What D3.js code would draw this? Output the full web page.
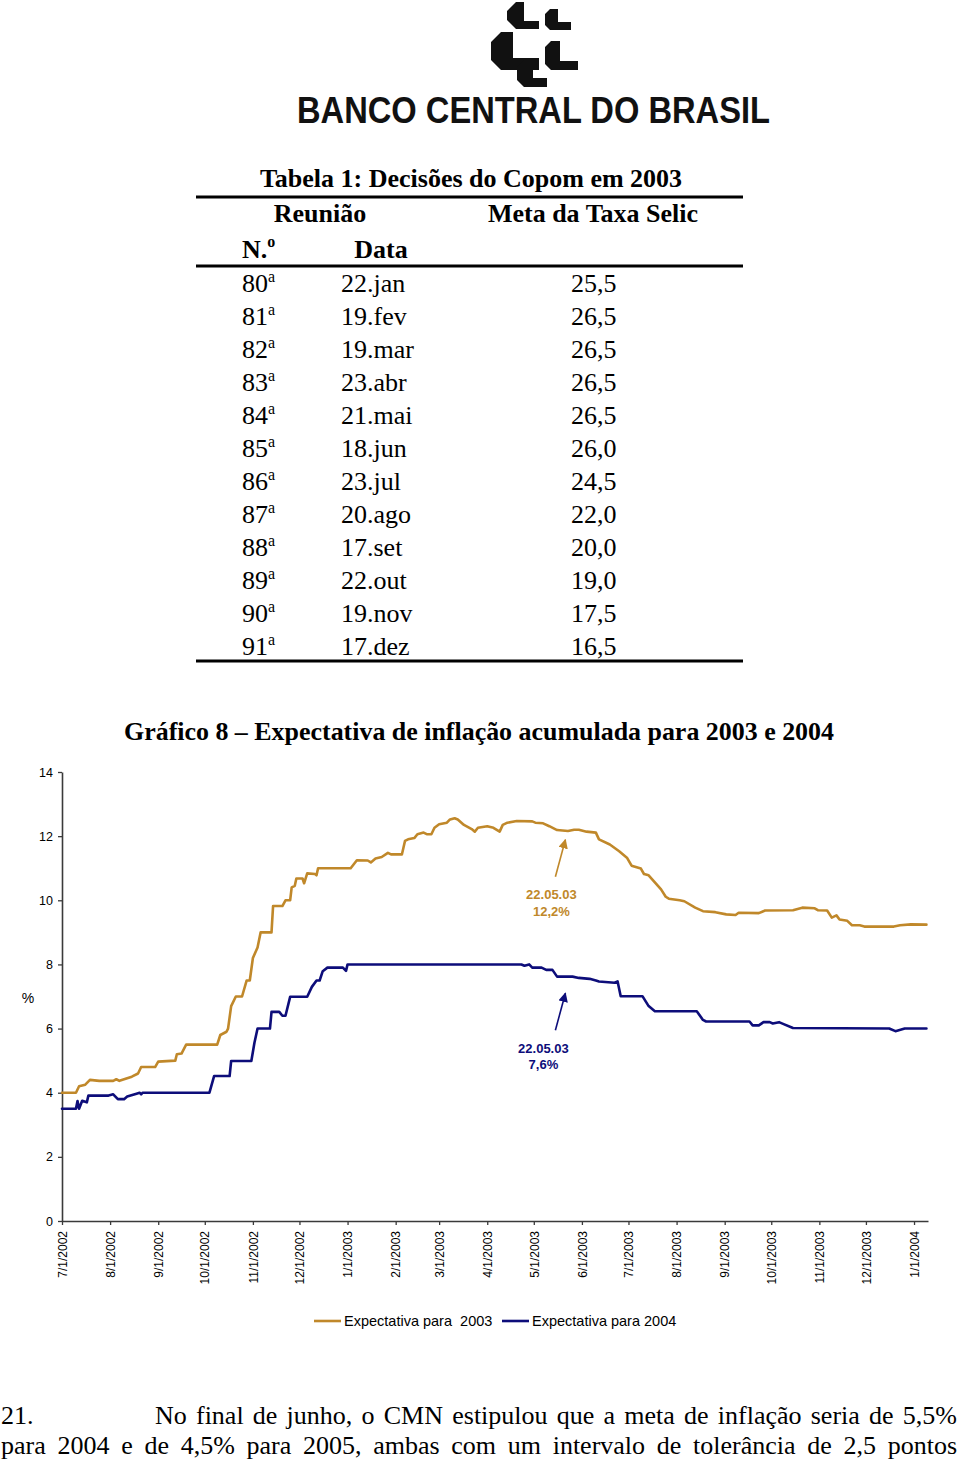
<!DOCTYPE html>
<html><head><meta charset="utf-8">
<script src="https://cdn.jsdelivr.net/npm/d3@7"></script>
<style>body{margin:0;background:#fff} svg{display:block}</style>
</head><body>
<svg id="page" width="960" height="1459"></svg>
<script>
// ---------- Table data ----------
const meetingNumbers = ["80","81","82","83","84","85","86","87","88","89","90","91"];
const meetingDates = ["22.jan","19.fev","19.mar","23.abr","21.mai","18.jun","23.jul","20.ago","17.set","22.out","19.nov","17.dez"];
const selicTargets = ["25,5","26,5","26,5","26,5","26,5","26,0","24,5","22,0","20,0","19,0","17,5","16,5"];

// ---------- Chart data ----------
const monthTicks = ["2002-07-01","2002-08-01","2002-09-01","2002-10-01","2002-11-01","2002-12-01",
  "2003-01-01","2003-02-01","2003-03-01","2003-04-01","2003-05-01","2003-06-01","2003-07-01",
  "2003-08-01","2003-09-01","2003-10-01","2003-11-01","2003-12-01","2004-01-01"];
const yTicks = [0,2,4,6,8,10,12,14];
const seriesNames = ["Expectativa para  2003","Expectativa para 2004"];

const expect2003 = [
["2002-07-01",4.00],["2002-07-10",4.00],["2002-07-12",4.20],["2002-07-16",4.25],["2002-07-19",4.40],
["2002-07-25",4.37],["2002-08-03",4.37],["2002-08-05",4.42],["2002-08-07",4.37],["2002-08-12",4.45],
["2002-08-15",4.50],["2002-08-19",4.60],["2002-08-21",4.80],["2002-08-30",4.80],["2002-09-01",4.97],
["2002-09-12",5.00],["2002-09-13",5.20],["2002-09-16",5.22],["2002-09-19",5.50],["2002-10-09",5.50],
["2002-10-11",5.80],["2002-10-15",5.90],["2002-10-16",6.00],["2002-10-18",6.70],["2002-10-21",7.00],
["2002-10-25",7.00],["2002-10-28",7.50],["2002-10-30",7.50],["2002-11-01",8.20],["2002-11-04",8.53],
["2002-11-06",9.00],["2002-11-13",9.00],["2002-11-14",9.82],["2002-11-20",9.82],["2002-11-22",10.00],
["2002-11-25",10.00],["2002-11-26",10.40],["2002-11-28",10.45],["2002-11-29",10.68],["2002-12-03",10.68],
["2002-12-04",10.53],["2002-12-06",10.84],["2002-12-11",10.82],["2002-12-12",10.78],["2002-12-13",11.00],
["2003-01-03",11.00],["2003-01-07",11.25],["2003-01-14",11.24],["2003-01-16",11.18],["2003-01-19",11.30],
["2003-01-23",11.35],["2003-01-27",11.48],["2003-01-29",11.43],["2003-02-05",11.43],["2003-02-07",11.85],
["2003-02-09",11.90],["2003-02-13",11.94],["2003-02-15",12.06],["2003-02-19",12.11],["2003-02-21",12.06],
["2003-02-24",12.06],["2003-02-26",12.26],["2003-03-01",12.37],["2003-03-06",12.42],["2003-03-08",12.52],
["2003-03-11",12.56],["2003-03-13",12.52],["2003-03-17",12.35],["2003-03-22",12.22],["2003-03-24",12.14],
["2003-03-26",12.26],["2003-04-01",12.31],["2003-04-05",12.26],["2003-04-09",12.14],["2003-04-11",12.35],
["2003-04-14",12.42],["2003-04-20",12.47],["2003-04-30",12.46],["2003-05-02",12.42],["2003-05-07",12.40],
["2003-05-11",12.31],["2003-05-16",12.19],["2003-05-23",12.16],["2003-05-27",12.20],["2003-05-30",12.20],
["2003-06-04",12.14],["2003-06-10",12.11],["2003-06-12",11.90],["2003-06-19",11.74],["2003-06-25",11.53],
["2003-06-30",11.33],["2003-07-03",11.08],["2003-07-09",10.99],["2003-07-11",10.82],["2003-07-14",10.78],
["2003-07-16",10.67],["2003-07-22",10.34],["2003-07-25",10.11],["2003-07-27",10.05],["2003-08-03",10.00],
["2003-08-06",9.97],["2003-08-13",9.77],["2003-08-18",9.66],["2003-08-26",9.63],["2003-09-02",9.56],
["2003-09-08",9.54],["2003-09-10",9.61],["2003-09-23",9.60],["2003-09-27",9.68],["2003-10-15",9.69],
["2003-10-21",9.77],["2003-10-29",9.75],["2003-10-31",9.69],["2003-11-06",9.68],["2003-11-09",9.46],
["2003-11-12",9.53],["2003-11-14",9.40],["2003-11-19",9.36],["2003-11-22",9.22],["2003-11-27",9.22],
["2003-11-30",9.18],["2003-12-19",9.18],["2003-12-23",9.22],["2003-12-30",9.25],["2004-01-09",9.24]
];

const expect2004 = [
["2002-07-01",3.50],["2002-07-10",3.50],["2002-07-11",3.74],["2002-07-12",3.50],["2002-07-14",3.75],
["2002-07-17",3.70],["2002-07-18",3.91],["2002-07-31",3.91],["2002-08-03",3.95],["2002-08-06",3.80],
["2002-08-10",3.80],["2002-08-12",3.88],["2002-08-18",3.97],["2002-08-20",4.00],["2002-08-21",3.95],
["2002-08-22",4.00],["2002-10-04",4.00],["2002-10-07",4.52],["2002-10-17",4.52],["2002-10-18",4.99],
["2002-10-31",4.99],["2002-11-02",5.56],["2002-11-04",6.00],["2002-11-12",6.00],["2002-11-13",6.52],
["2002-11-18",6.52],["2002-11-20",6.40],["2002-11-22",6.40],["2002-11-25",6.99],["2002-12-06",6.99],
["2002-12-09",7.30],["2002-12-12",7.50],["2002-12-14",7.50],["2002-12-16",7.79],["2002-12-19",7.90],
["2002-12-29",7.90],["2002-12-31",7.80],["2003-01-01",8.00],["2003-04-23",8.00],["2003-04-25",7.96],
["2003-04-28",8.00],["2003-04-30",7.90],["2003-05-06",7.90],["2003-05-09",7.83],["2003-05-13",7.83],
["2003-05-16",7.62],["2003-05-26",7.62],["2003-05-30",7.58],["2003-06-06",7.55],["2003-06-10",7.50],
["2003-06-12",7.47],["2003-06-22",7.43],["2003-06-24",7.47],["2003-06-26",7.01],["2003-07-10",7.01],
["2003-07-14",6.70],["2003-07-18",6.54],["2003-08-14",6.54],["2003-08-18",6.27],["2003-08-20",6.22],
["2003-09-17",6.22],["2003-09-19",6.10],["2003-09-23",6.10],["2003-09-26",6.20],["2003-09-30",6.20],
["2003-10-02",6.16],["2003-10-06",6.20],["2003-10-09",6.14],["2003-10-15",6.02],["2003-12-16",6.00],
["2003-12-20",5.92],["2003-12-26",6.00],["2004-01-09",6.00]
];

const annotations = [
  {date:"2003-05-22", value:12.2, label1:"22.05.03", label2:"12,2%", series:0},
  {date:"2003-05-22", value:7.6,  label1:"22.05.03", label2:"7,6%",  series:1}
];

// paragraph text
const paraNumber = "21.";
const paraLine1 = "No final de junho, o CMN estipulou que a meta de inflação seria de 5,5%";
const paraLine2 = "para 2004 e de 4,5% para 2005, ambas com um intervalo de tolerância de 2,5 pontos";

// ---------- Drawing ----------
const colors = ["#C0882A", "#0D0D7A"];
const serif = "'Liberation Serif','Times New Roman',serif";
const sans = "'Liberation Sans',Arial,sans-serif";
const parse = d3.timeParse("%Y-%m-%d");
const svg = d3.select("#page");
svg.append("rect").attr("width",960).attr("height",1459).attr("fill","#fff");

// Logo
const logo = svg.append("g").attr("fill","#111");
function piece(x0,y0,w,h,t,b){
  return `M${x0+b},${y0} L${x0+b+t},${y0} L${x0+b+t},${y0+h-t} L${x0+w},${y0+h-t} L${x0+w},${y0+h} L${x0+b},${y0+h} L${x0},${y0+h-b} L${x0},${y0+b} Z`;
}
[[507,2,32,27,8,9],[545,9,26,21,8,5],[491,32,48,38,12,10],[545,41,33,29,9,6],[517,60,30,27,9,7]]
  .forEach(p=>logo.append("path").attr("d",piece(...p)));
logo.append("text").attr("x",297).attr("y",123).attr("font-family",sans).attr("font-weight","bold")
  .attr("font-size",37).attr("textLength",473).attr("lengthAdjust","spacingAndGlyphs")
  .text("BANCO CENTRAL DO BRASIL");

// Table
const tbl = svg.append("g").attr("font-family",serif).attr("fill","#000");
tbl.append("text").attr("x",471).attr("y",187).attr("text-anchor","middle").attr("font-weight","bold")
  .attr("font-size",26).text("Tabela 1: Decisões do Copom em 2003");
[197,266,661].forEach(yy=>tbl.append("line").attr("x1",196).attr("x2",743).attr("y1",yy).attr("y2",yy)
  .attr("stroke","#000").attr("stroke-width",3));
tbl.append("text").attr("x",320).attr("y",222).attr("text-anchor","middle").attr("font-weight","bold")
  .attr("font-size",26).text("Reunião");
tbl.append("text").attr("x",593).attr("y",222).attr("text-anchor","middle").attr("font-weight","bold")
  .attr("font-size",26).text("Meta da Taxa Selic");
const nt = tbl.append("text").attr("x",242).attr("y",258).attr("font-weight","bold").attr("font-size",26);
nt.append("tspan").text("N.");
nt.append("tspan").attr("font-size",16).attr("dy",-11).text("o");
tbl.append("text").attr("x",381).attr("y",258).attr("text-anchor","middle").attr("font-weight","bold")
  .attr("font-size",26).text("Data");

const rowY = d3.scalePoint().domain(d3.range(meetingNumbers.length)).range([292,655]);
const rows = tbl.selectAll("g.row").data(meetingNumbers).join("g").attr("class","row")
  .attr("font-size",26);
const numT = rows.append("text").attr("x",242).attr("y",(d,i)=>rowY(i));
numT.append("tspan").text(d=>d);
numT.append("tspan").attr("font-size",16).attr("dy",-10).text("a");
rows.append("text").attr("x",341).attr("y",(d,i)=>rowY(i)).text((d,i)=>meetingDates[i]);
rows.append("text").attr("x",571).attr("y",(d,i)=>rowY(i)).text((d,i)=>selicTargets[i]);

// Chart title
svg.append("text").attr("x",124).attr("y",740).attr("font-family",serif)
  .attr("font-weight","bold").attr("font-size",26).attr("textLength",710).attr("lengthAdjust","spacingAndGlyphs")
  .text("Gráfico 8 – Expectativa de inflação acumulada para 2003 e 2004");

// Scales
const x = d3.scaleTime().domain([parse("2002-07-01"), parse("2004-01-10")]).range([62,928]);
const y = d3.scaleLinear().domain([0,14]).range([1221,772]);

const axisColor = "#3a3a3a";
const yAx = svg.append("g").attr("transform","translate(62,0)")
  .call(d3.axisLeft(y).tickValues(yTicks).tickSize(4).tickSizeOuter(0).tickPadding(5));
const xAx = svg.append("g").attr("transform","translate(0,1221)")
  .call(d3.axisBottom(x).tickValues(monthTicks.map(parse)).tickFormat(d3.timeFormat("%-m/%-d/%Y"))
    .tickSize(4).tickSizeOuter(0));
[yAx,xAx].forEach(a=>{
  a.select(".domain").attr("stroke",axisColor).attr("stroke-width",1.6);
  a.selectAll(".tick line").attr("stroke",axisColor).attr("stroke-width",1.3);
  a.selectAll("text").attr("font-family",sans).attr("font-size",12.5).attr("fill","#000");
});
xAx.selectAll(".tick text").attr("transform","rotate(-90)").attr("x",-10).attr("y",0)
  .attr("dy","0.35em").attr("text-anchor","end").attr("font-size",12);
svg.append("text").attr("x",28).attr("y",1003).attr("text-anchor","middle").attr("font-family",sans)
  .attr("font-size",14).text("%");

// Lines
const line = d3.line().x(d=>x(parse(d[0]))).y(d=>y(d[1])).curve(d3.curveLinear);
[expect2003, expect2004].forEach((s,i)=>{
  svg.append("path").datum(s).attr("d",line).attr("fill","none").attr("stroke",colors[i])
    .attr("stroke-width",2.6).attr("stroke-linejoin","round").attr("stroke-linecap","round");
});

// Annotations
const defs = svg.append("defs");
colors.forEach((c,i)=>{
  defs.append("marker").attr("id","arr"+i).attr("viewBox","0 0 10 10").attr("refX",9).attr("refY",5)
    .attr("markerWidth",6).attr("markerHeight",6).attr("orient","auto").attr("markerUnits","strokeWidth")
    .append("path").attr("d","M0,0 L10,5 L0,10 Z").attr("fill",c);
});
const annOffsets = [{tip:10, tail:47, tx:-15, t1:69, t2:86}, {tip:16, tail:53, tx:-23, t1:76, t2:92}];
annotations.forEach((a,i)=>{
  const ax = x(parse(a.date)), ay = y(a.value), o = annOffsets[i], c = colors[a.series];
  svg.append("line").attr("x1",ax-11).attr("y1",ay+o.tail).attr("x2",ax-1).attr("y2",ay+o.tip)
    .attr("stroke",c).attr("stroke-width",1.6).attr("marker-end",`url(#arr${i})`);
  const g = svg.append("g").attr("font-family",sans).attr("font-weight","bold").attr("font-size",13)
    .attr("fill",c).attr("text-anchor","middle");
  g.append("text").attr("x",ax+o.tx).attr("y",ay+o.t1).text(a.label1);
  g.append("text").attr("x",ax+o.tx).attr("y",ay+o.t2).text(a.label2);
});

// Legend
const legX = [314, 502];
seriesNames.forEach((n,i)=>{
  svg.append("line").attr("x1",legX[i]).attr("x2",legX[i]+27).attr("y1",1321).attr("y2",1321)
    .attr("stroke",colors[i]).attr("stroke-width",2.6);
  svg.append("text").attr("x",legX[i]+30).attr("y",1326).attr("font-family",sans).attr("font-size",14.5)
    .attr("xml:space","preserve").style("white-space","pre").text(n);
});

// Paragraph (justified)
function justify(words, x0, x1, yb){
  const g = svg.append("g").attr("font-family",serif).attr("font-size",26);
  const t = g.selectAll("text").data(words).join("text").attr("y",yb).text(d=>d);
  const w = t.nodes().map(n=>n.getComputedTextLength());
  const gap = (x1-x0-d3.sum(w))/(words.length-1);
  let cx = x0;
  t.each(function(d,i){ d3.select(this).attr("x",cx); cx += w[i]+gap; });
}
svg.append("text").attr("x",1).attr("y",1424).attr("font-family",serif).attr("font-size",26).text(paraNumber);
justify(paraLine1.split(" "), 155, 957, 1424);
justify(paraLine2.split(" "), 1, 957, 1454);
</script>
</body></html>
